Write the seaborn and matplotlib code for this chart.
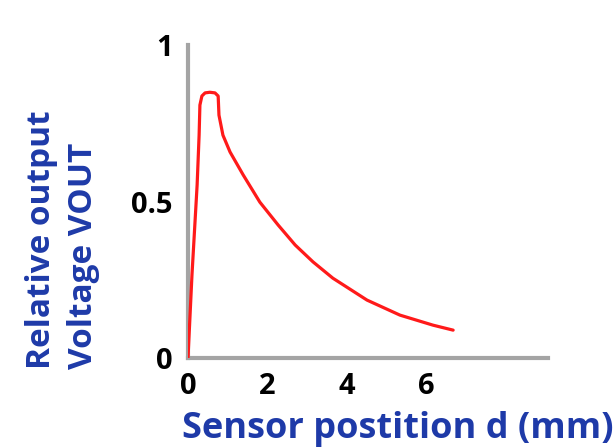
import matplotlib
matplotlib.use("Agg")
import matplotlib.pyplot as plt
import seaborn as sns
import pandas as pd

# --- data ---
x_mm = [0.0, 0.10, 0.23, 0.28, 0.30, 0.35, 0.43, 0.55, 0.68, 0.76, 0.78, 0.88,
        1.06, 1.39, 1.81, 2.27, 2.70, 3.15, 3.65, 4.51, 5.34, 6.17, 6.68]
v_rel = [0.0, 0.265, 0.553, 0.712, 0.808, 0.837, 0.847, 0.849, 0.847, 0.837,
         0.776, 0.712, 0.658, 0.585, 0.498, 0.425, 0.361, 0.307, 0.255, 0.185,
         0.137, 0.105, 0.089]
x_ticks = [0, 2, 4, 6]
x_ticklabels = ["0", "2", "4", "6"]
y_ticks = [0, 0.5, 1]
y_ticklabels = ["0", "0.5", "1"]
x_label = "Sensor postition d (mm)"
y_label = "Relative output\nVoltage VOUT"

df = pd.DataFrame({"d": x_mm, "v": v_rel})

sns.set_style("white")
plt.rcParams["font.family"] = ["Open Sans", "DejaVu Sans"]
plt.rcParams["font.weight"] = "bold"

W, H = 616, 448
fig = plt.figure(figsize=(W / 100, H / 100), dpi=100)
ax = fig.add_axes([188 / W, 1 - 358 / H, (548 - 188) / W, (358 - 45) / H])

sns.lineplot(data=df, x="d", y="v", ax=ax, color="#ff1a1a", linewidth=2.3,
             sort=False, estimator=None, zorder=5)
ax.lines[0].set_solid_joinstyle("round")
ax.lines[0].set_solid_capstyle("round")

ax.set_xlim(0, 9.07)
ax.set_ylim(0, 1.0)

gray = "#a4a4a4"
for side in ["top", "right"]:
    ax.spines[side].set_visible(False)
for side in ["left", "bottom"]:
    ax.spines[side].set_color(gray)
    ax.spines[side].set_linewidth(3)

ax.set_xticks(x_ticks)
ax.set_xticklabels(x_ticklabels)
ax.set_yticks(y_ticks)
ax.set_yticklabels(y_ticklabels)
ax.tick_params(axis="x", direction="in", length=13, width=2.2, color=gray,
               labelsize=21, pad=10, labelcolor="black")
ax.tick_params(axis="y", length=0, labelsize=21, pad=11, labelcolor="black")
for t in ax.get_xticklabels() + ax.get_yticklabels():
    t.set_fontweight("bold")

blue = "#1e3aa8"
ax.set_xlabel(x_label, fontsize=26, fontweight="bold", color=blue, va="baseline")
ax.xaxis.set_label_coords((398 - 188) / 360, (358 - 438) / 313)
ax.set_ylabel(y_label, fontsize=24, fontweight="bold", color=blue,
              ha="left", va="center", multialignment="left", linespacing=1.4)
ax.yaxis.set_label_coords((62.5 - 188) / 360, (358 - 369) / 313)

fig.savefig("out.png", dpi=100)
